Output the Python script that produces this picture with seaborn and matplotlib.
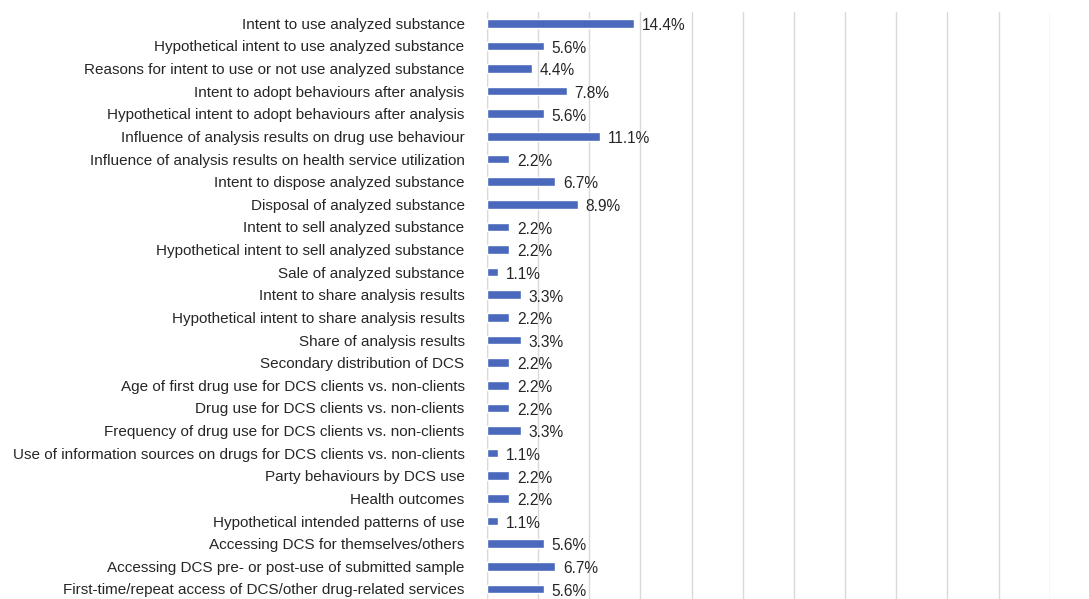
import matplotlib
matplotlib.use('Agg')
import matplotlib.pyplot as plt
import seaborn as sns
from pandas import DataFrame

categories = [
    'Intent to use analyzed substance',
    'Hypothetical intent to use analyzed substance',
    'Reasons for intent to use or not use analyzed substance',
    'Intent to adopt behaviours after analysis',
    'Hypothetical intent to adopt behaviours after analysis',
    'Influence of analysis results on drug use behaviour',
    'Influence of analysis results on health service utilization',
    'Intent to dispose analyzed substance',
    'Disposal of analyzed substance',
    'Intent to sell analyzed substance',
    'Hypothetical intent to sell analyzed substance',
    'Sale of analyzed substance',
    'Intent to share analysis results',
    'Hypothetical intent to share analysis results',
    'Share of analysis results',
    'Secondary distribution of DCS',
    'Age of first drug use for DCS clients vs. non-clients',
    'Drug use for DCS clients vs. non-clients',
    'Frequency of drug use for DCS clients vs. non-clients',
    'Use of information sources on drugs for DCS clients vs. non-clients',
    'Party behaviours by DCS use',
    'Health outcomes',
    'Hypothetical intended patterns of use',
    'Accessing DCS for themselves/others',
    'Accessing DCS pre- or post-use of submitted sample',
    'First-time/repeat access of DCS/other drug-related services',
]
percent = [14.4, 5.6, 4.4, 7.8, 5.6, 11.1, 2.2, 6.7, 8.9, 2.2, 2.2, 1.1, 3.3,
           2.2, 3.3, 2.2, 2.2, 2.2, 3.3, 1.1, 2.2, 2.2, 1.1, 5.6, 6.7, 5.6]

df = DataFrame({'category': categories, 'percent': percent})

sns.set_style('white')
plt.rcParams['font.family'] = ['Liberation Sans', 'DejaVu Sans']

fig = plt.figure(figsize=(10.89, 5.99), dpi=100)
ax = fig.add_axes([0.447, -0.002, 0.517, 0.982])

sns.barplot(data=df, x='percent', y='category', color='#4a69bd',
            width=0.38, saturation=1, ax=ax)

# value labels sit a touch below the bar centre, as in the original
for i, v in enumerate(percent):
    ax.text(v + 0.75, i + 0.1, f'{v:.1f}%', va='center', ha='left',
            fontsize=11.2, color='#262626')

ax.set_xlim(0, 55)
ax.set_xticks(range(0, 56, 5))
ax.set_xticklabels([])
ax.grid(axis='x', color='#d9d9d9', linewidth=1)
ax.set_axisbelow(True)
for s in ax.spines.values():
    s.set_visible(False)
ax.axvline(0, color='#d9d9d9', linewidth=1, zorder=0)
ax.tick_params(axis='y', length=0, pad=16, labelsize=11, labelcolor='#262626')
ax.tick_params(axis='x', length=0)
ax.set(xlabel='', ylabel='')

fig.savefig('out.png', dpi=100)
